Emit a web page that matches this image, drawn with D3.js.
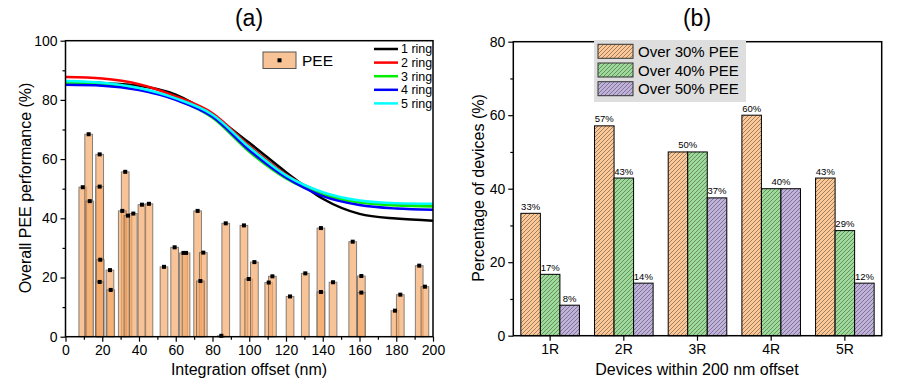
<!DOCTYPE html>
<html>
<head>
<meta charset="utf-8">
<script src="https://cdn.jsdelivr.net/npm/d3@7"></script>
<style>
  body { margin: 0; background: #fff; }
  svg { font-family: "Liberation Sans", Arial, sans-serif; }
</style>
</head>
<body>
<svg id="drawing_region"></svg>
<script>
// ---- (a) data ----
const ringX = [0, 20, 40, 60, 80, 100, 120, 140, 160, 180, 200];
const ring1 = [86.1, 85.7, 84.8, 81.8, 74.8, 65.5, 55.6, 46.6, 41.5, 39.9, 39.2];
const ring2 = [87.7, 87.2, 85.3, 81.2, 75.5, 64.5, 54.8, 48.5, 45.6, 44.7, 44.5];
const ring3 = [85.9, 85.3, 83.6, 80.2, 74.0, 62.5, 53.5, 48.0, 45.3, 44.3, 44.0];
const ring4 = [85.1, 84.8, 83.3, 80.0, 74.3, 63.0, 53.8, 47.5, 44.5, 43.3, 42.9];
const ring5 = [86.4, 85.8, 84.0, 80.5, 75.0, 64.0, 54.5, 48.8, 46.0, 45.1, 44.9];
const ringNames = ['1 ring', '2 ring', '3 ring', '4 ring', '5 ring'];
const ringColors = ['#000000', '#ff0000', '#00ee00', '#0000ff', '#00ffff'];

const peeOffset = [9.4, 12.6, 13.2, 18.6, 18.6, 18.9, 18.6, 24.2, 24.6, 32.5, 30.9, 34.0, 36.9, 41.6, 45.4,
                   53.6, 59.4, 64.2, 65.6, 71.9, 75.0, 73.4, 84.8, 87.2, 97.1, 99.7, 102.8, 110.6, 112.6,
                   122.2, 130.5, 139.0, 139.0, 145.6, 156.3, 161.0, 161.0, 179.3, 182.2, 192.5, 195.6];
const peeValue  = [50.5, 68.4, 45.8, 61.6, 50.7, 26.0, 18.5, 22.5, 15.8, 55.7, 42.5, 40.9, 41.6, 44.6, 44.9,
                   23.6, 30.2, 28.3, 28.3, 42.5, 28.4, 18.8, 0.3, 38.3, 37.6, 19.5, 25.2, 18.3, 20.4,
                   13.6, 21.4, 36.7, 15.1, 18.4, 32.1, 20.5, 14.9, 8.8, 14.2, 24.0, 16.9];

// ---- (b) data ----
const groups = ['1R', '2R', '3R', '4R', '5R'];
const seriesNames = ['Over 30% PEE', 'Over 40% PEE', 'Over 50% PEE'];
const over30 = [33.3, 57.1, 50.0, 60.0, 42.9];
const over40 = [16.7, 42.9, 50.0, 40.0, 28.6];
const over50 = [8.3, 14.3, 37.5, 40.0, 14.3];
const labels30 = ['33%', '57%', '50%', '60%', '43%'];
const labels40 = ['17%', '43%', '50%', '40%', '29%'];
const labels50 = ['8%', '14%', '37%', '40%', '12%'];
const seriesColors = ['#fdc896', '#9cdc98', '#c0b2dc'];

const svg = d3.select('#drawing_region').attr('width', 897).attr('height', 383);

// hatch patterns
const defs = svg.append('defs');
seriesColors.forEach((c, i) => {
    const p = defs.append('pattern')
        .attr('id', 'hatch' + i)
        .attr('patternUnits', 'userSpaceOnUse')
        .attr('width', 4).attr('height', 4);
    p.append('rect').attr('width', 4).attr('height', 4).attr('fill', c);
    p.append('path')
        .attr('d', 'M-1,1 L1,-1 M0,4 L4,0 M3,5 L5,3')
        .attr('stroke', '#333').attr('stroke-width', 0.6).attr('stroke-opacity', 0.8);
});

// ================= chart (a) =================
const A = {left: 65.5, right: 433, top: 40.7, bottom: 336.7};
const xa = d3.scaleLinear().domain([0, 200]).range([A.left, A.right]);
const ya = d3.scaleLinear().domain([0, 100]).range([A.bottom, A.top]);

const ga = svg.append('g');
const peeFill = 'rgb(245,170,105)';
const barHalf = 2.1;

ga.selectAll('rect.pee')
    .data(peeOffset.map((x, i) => ({x: x, v: peeValue[i]})))
    .join('rect')
    .attr('class', 'pee')
    .attr('x', d => xa(d.x - barHalf))
    .attr('width', d => xa(d.x + barHalf) - xa(d.x - barHalf))
    .attr('y', d => ya(d.v))
    .attr('height', d => ya(0) - ya(d.v))
    .attr('fill', peeFill).attr('fill-opacity', 0.7)
    .attr('stroke', '#555').attr('stroke-opacity', 0.7).attr('stroke-width', 1);

ga.selectAll('rect.dot')
    .data(peeOffset.map((x, i) => ({x: x, v: peeValue[i]})))
    .join('rect')
    .attr('class', 'dot')
    .attr('x', d => xa(d.x) - 2).attr('y', d => ya(d.v) - 2)
    .attr('width', 4).attr('height', 4)
    .attr('fill', '#000');

const rings = [ring1, ring2, ring3, ring4, ring5];
const line = d3.line()
    .x((d, i) => xa(ringX[i]))
    .y(d => ya(d))
    .curve(d3.curveMonotoneX);
rings.forEach((r, i) => {
    ga.append('path').attr('d', line(r))
        .attr('fill', 'none').attr('stroke', ringColors[i]).attr('stroke-width', 2.5);
});

// axes (a)
ga.append('g').attr('transform', `translate(0,${A.bottom})`)
    .call(d3.axisBottom(xa).tickValues(d3.range(10, 200, 20)).tickSize(3).tickFormat(''));
ga.append('g').attr('transform', `translate(0,${A.bottom})`)
    .call(d3.axisBottom(xa).tickValues(d3.range(0, 201, 20)).tickSize(5).tickPadding(3))
    .call(g => g.selectAll('text').attr('font-size', 14).attr('fill', '#000'));
ga.append('g').attr('transform', `translate(${A.left},0)`)
    .call(d3.axisLeft(ya).tickValues(d3.range(10, 100, 20)).tickSize(3).tickFormat(''));
ga.append('g').attr('transform', `translate(${A.left},0)`)
    .call(d3.axisLeft(ya).tickValues(d3.range(0, 101, 20)).tickSize(5).tickPadding(3))
    .call(g => g.selectAll('text').attr('font-size', 14).attr('fill', '#000'));
ga.selectAll('.domain').remove();
ga.selectAll('.tick line').attr('stroke', '#000').attr('stroke-width', 1.2);
ga.append('rect')
    .attr('x', A.left).attr('y', A.top)
    .attr('width', A.right - A.left).attr('height', A.bottom - A.top)
    .attr('fill', 'none').attr('stroke', '#000').attr('stroke-width', 1.5);

ga.append('text').attr('x', 249).attr('y', 26).attr('text-anchor', 'middle')
    .attr('font-size', 23).text('(a)');
ga.append('text').attr('x', 249).attr('y', 375).attr('text-anchor', 'middle')
    .attr('font-size', 16).text('Integration offset (nm)');
ga.append('text').attr('transform', 'translate(31,188) rotate(-90)').attr('text-anchor', 'middle')
    .attr('font-size', 16).text('Overall PEE performance (%)');

// legend (a)
ga.append('rect').attr('x', 263).attr('y', 52).attr('width', 33).attr('height', 16.5)
    .attr('fill', peeFill).attr('fill-opacity', 0.7).attr('stroke', '#555').attr('stroke-width', 1);
ga.append('rect').attr('x', 277.5).attr('y', 58.3).attr('width', 4).attr('height', 4).attr('fill', '#000');
ga.append('text').attr('x', 302).attr('y', 66).attr('font-size', 15.5).text('PEE');
ringNames.forEach((n, i) => {
    const y = 49 + i * 13.6;
    ga.append('line').attr('x1', 374).attr('x2', 398).attr('y1', y).attr('y2', y)
        .attr('stroke', ringColors[i]).attr('stroke-width', 2.5);
    ga.append('text').attr('x', 401).attr('y', y + 4.3).attr('font-size', 12.5).text(n);
});

// ================= chart (b) =================
const B = {left: 513.3, right: 881.7, top: 41.7, bottom: 335.7};
const xb = d3.scaleBand().domain(groups).range([B.left, B.right])
    .paddingInner(0.205).paddingOuter(0.1025);
const xs = d3.scaleBand().domain([0, 1, 2]).range([0, xb.bandwidth()]);
const yb = d3.scaleLinear().domain([0, 80]).range([B.bottom, B.top]);

const gb = svg.append('g');
const series = [over30, over40, over50];
const labels = [labels30, labels40, labels50];

series.forEach((s, si) => {
    gb.selectAll('rect.s' + si)
        .data(s.map((v, gi) => ({g: groups[gi], v: v})))
        .join('rect')
        .attr('x', d => xb(d.g) + xs(si))
        .attr('width', xs.bandwidth())
        .attr('y', d => yb(d.v))
        .attr('height', d => yb(0) - yb(d.v))
        .attr('fill', `url(#hatch${si})`)
        .attr('stroke', '#000').attr('stroke-width', 1);
});

// value labels (equal neighbours share one label)
groups.forEach((g, gi) => {
    let si = 0;
    while (si < 3) {
        let sj = si;
        while (sj + 1 < 3 && series[sj + 1][gi] === series[si][gi]) sj++;
        const cx = xb(g) + (xs(si) + xs(sj) + xs.bandwidth()) / 2;
        gb.append('text').attr('x', cx).attr('y', yb(series[si][gi]) - 3.5)
            .attr('text-anchor', 'middle').attr('font-size', 9.5).text(labels[si][gi]);
        si = sj + 1;
    }
});

gb.append('g').attr('transform', `translate(0,${B.bottom})`)
    .call(d3.axisBottom(xb).tickSize(5).tickPadding(3))
    .call(g => g.selectAll('text').attr('font-size', 14).attr('fill', '#000'));
gb.append('g').attr('transform', `translate(${B.left},0)`)
    .call(d3.axisLeft(yb).tickValues(d3.range(10, 80, 20)).tickSize(3).tickFormat(''));
gb.append('g').attr('transform', `translate(${B.left},0)`)
    .call(d3.axisLeft(yb).tickValues(d3.range(0, 81, 20)).tickSize(5).tickPadding(3))
    .call(g => g.selectAll('text').attr('font-size', 14).attr('fill', '#000'));
gb.selectAll('.domain').remove();
gb.selectAll('.tick line').attr('stroke', '#000').attr('stroke-width', 1.2);
gb.append('rect')
    .attr('x', B.left).attr('y', B.top)
    .attr('width', B.right - B.left).attr('height', B.bottom - B.top)
    .attr('fill', 'none').attr('stroke', '#000').attr('stroke-width', 1.5);

gb.append('text').attr('x', 697).attr('y', 26).attr('text-anchor', 'middle')
    .attr('font-size', 23).text('(b)');
gb.append('text').attr('x', 697).attr('y', 375).attr('text-anchor', 'middle')
    .attr('font-size', 16).text('Devices within 200 nm offset');
gb.append('text').attr('transform', 'translate(484,188) rotate(-90)').attr('text-anchor', 'middle')
    .attr('font-size', 16).text('Percentage of devices (%)');

// legend (b)
gb.append('rect').attr('x', 594).attr('y', 40).attr('width', 152).attr('height', 62)
    .attr('fill', '#dedede');
seriesNames.forEach((n, i) => {
    const y = 44.3 + i * 18.7;
    gb.append('rect').attr('x', 598).attr('y', y).attr('width', 35).attr('height', 14)
        .attr('fill', `url(#hatch${i})`).attr('stroke', '#333').attr('stroke-width', 1);
    gb.append('text').attr('x', 638).attr('y', y + 12.5).attr('font-size', 15).text(n);
});
</script>
</body>
</html>
